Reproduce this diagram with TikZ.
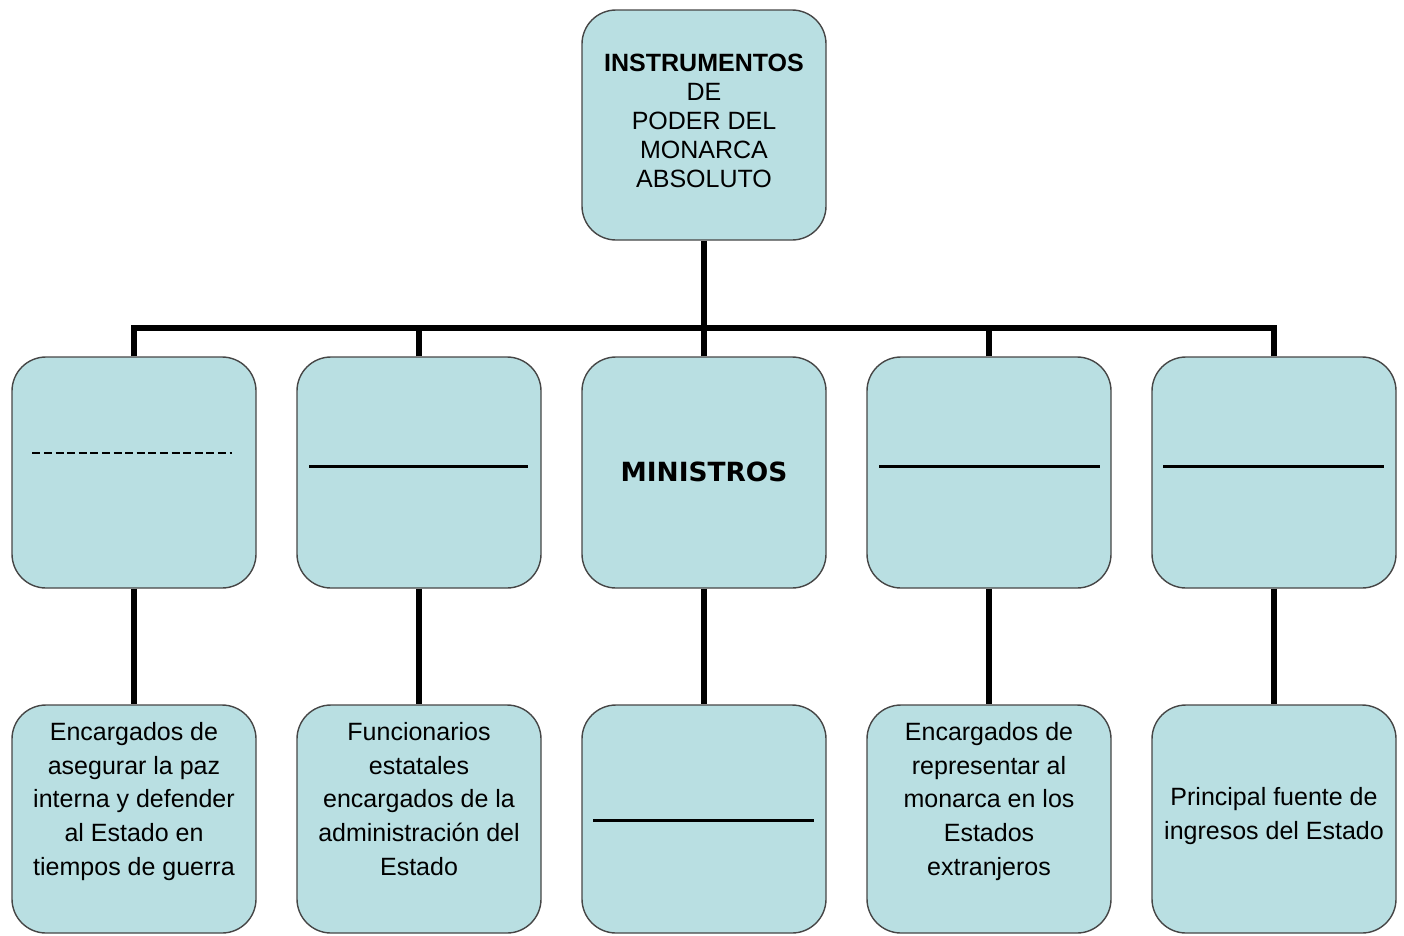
\documentclass[tikz,border=0pt]{standalone}
\usepackage{fontspec}
\setmainfont{Liberation Sans}
\newfontfamily\dejavu{DejaVu Sans}
\definecolor{boxfill}{RGB}{185,223,226}
\definecolor{boxline}{RGB}{70,70,70}
\begin{document}
\begin{tikzpicture}[x=1pt,y=-1pt,
 box/.style={draw=boxline, line width=1.4pt, fill=boxfill, rounded corners=34pt, minimum width=244pt, minimum height=231pt, inner sep=0pt},
 lowbox/.style={box, minimum height=228pt},
 conn/.style={line width=5.5pt, line join=miter},
 rulel/.style={line width=3pt},
 dashrule/.style={line width=1.7pt, dash pattern=on 8pt off 3.6pt},
 txt/.style={align=center, inner sep=0pt, font=\fontsize{25}{33.7}\selectfont, anchor=north}
]
\useasboundingbox (0,0) rectangle (1404,935);
% boxes
\node[box, minimum height=230pt] (top) at (704,125) {};
\node[box] (b1) at (134,472.5) {};
\node[box] (b2) at (419,472.5) {};
\node[box] (b3) at (704,472.5) {};
\node[box] (b4) at (989,472.5) {};
\node[box] (b5) at (1274,472.5) {};
\node[lowbox] (c1) at (134,819) {};
\node[lowbox] (c2) at (419,819) {};
\node[lowbox] (c3) at (704,819) {};
\node[lowbox] (c4) at (989,819) {};
\node[lowbox] (c5) at (1274,819) {};
% connectors
\coordinate (j) at (704,328);
\draw[conn] (top.south) -- (j);
\draw[conn] (b1.north) |- (j);
\draw[conn] (b2.north) |- (j);
\draw[conn] (b3.north) -- (j);
\draw[conn] (b4.north) |- (j);
\draw[conn] (b5.north) |- (j);
\draw[conn] (b1.south) -- (c1.north);
\draw[conn] (b2.south) -- (c2.north);
\draw[conn] (b3.south) -- (c3.north);
\draw[conn] (b4.south) -- (c4.north);
\draw[conn] (b5.south) -- (c5.north);
% texts
\node[txt, font=\fontsize{25}{29}\selectfont] (ttop) at (704,54) {\textbf{INSTRUMENTOS}\\DE\\PODER DEL\\MONARCA\\ABSOLUTO};
\node[anchor=base, inner sep=0pt, font=\dejavu\bfseries\fontsize{26.4}{30}\selectfont] (tmin) at (704,481) {MINISTROS};
\node[txt] (t1) at (134,722) {Encargados de\\asegurar la paz\\interna y defender\\al Estado en\\tiempos de guerra};
\node[txt] (t2) at (419,722) {Funcionarios\\estatales\\encargados de la\\administración del\\Estado};
\node[txt] (t4) at (989,722) {Encargados de\\representar al\\monarca en los\\Estados\\extranjeros};
\node[txt] (t5) at (1274,787) {Principal fuente de\\ingresos del Estado};
% blank rules
\draw[dashrule] ([xshift=21pt,yshift=19.5pt]b1.west) -- ([xshift=-25pt,yshift=19.5pt]b1.east);
\draw[rulel] ([xshift=13pt,yshift=6.5pt]b2.west) -- ([xshift=-14pt,yshift=6.5pt]b2.east);
\draw[rulel] ([xshift=13pt,yshift=6.5pt]b4.west) -- ([xshift=-12pt,yshift=6.5pt]b4.east);
\draw[rulel] ([xshift=12pt,yshift=6.5pt]b5.west) -- ([xshift=-13pt,yshift=6.5pt]b5.east);
\draw[rulel] ([xshift=12pt,yshift=-1pt]c3.west) -- ([xshift=-13pt,yshift=-1pt]c3.east);
\end{tikzpicture}
\end{document}
